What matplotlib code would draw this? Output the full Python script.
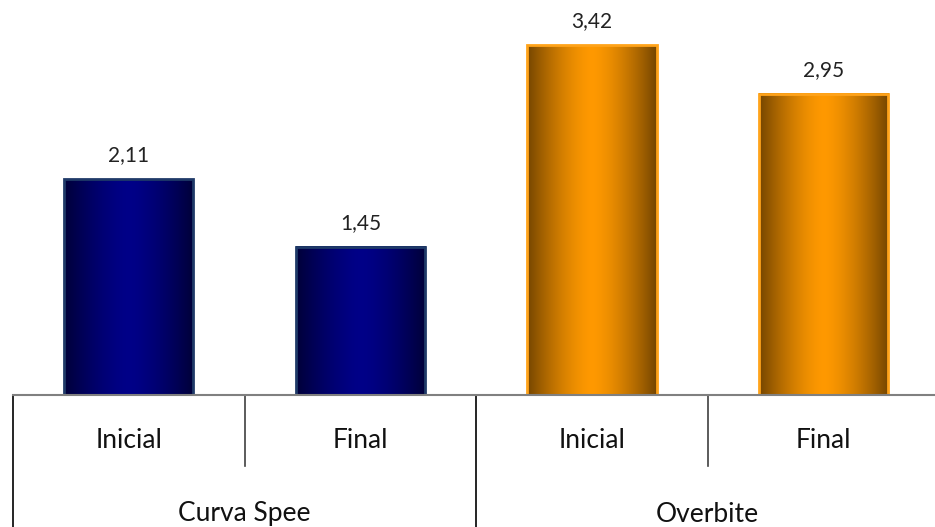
import matplotlib.pyplot as plt
import matplotlib.transforms as mtransforms
import numpy as np
from matplotlib.colors import to_rgb
from matplotlib.patches import Rectangle

groups = ["Curva Spee", "Overbite"]
stages = ["Inicial", "Final"]
values = [2.11, 1.45, 3.42, 2.95]
labels = ["2,11", "1,45", "3,42", "2,95"]

# per-group fill: (edge shade, centre shade, outline)
palette = {
    "Curva Spee": ("#000038", "#000088", "#1f3a68"),
    "Overbite": ("#744500", "#ff9900", "#ffa31a"),
}

plt.rcParams["font.family"] = ["Lato", "DejaVu Sans"]

fig = plt.figure(figsize=(9.35, 5.27), dpi=100)
W, H = 935, 527
base_px = 395
slot_px = 231.6
ax = fig.add_axes([13 / W, (H - base_px) / H, 4 * slot_px / W, base_px / H])
ax.set_xlim(0, 4)
ax.set_ylim(0, base_px / 102.2)
ax.axis("off")

bar_w = 0.557


def shade(edge, centre, n=256):
    t = np.abs(np.linspace(-1, 1, n)) ** 1.5
    e, c = np.array(to_rgb(edge)), np.array(to_rgb(centre))
    return (c[None, :] + (e - c)[None, :] * t[:, None])[None, :, :]


for i, v in enumerate(values):
    group = groups[i // len(stages)]
    edge, centre, outline = palette[group]
    x0 = i + 0.5 - bar_w / 2
    ax.imshow(shade(edge, centre), extent=[x0, x0 + bar_w, 0, v],
              aspect="auto", interpolation="bilinear", zorder=2)
    ax.add_patch(Rectangle((x0, 0), bar_w, v, fill=False,
                           edgecolor=outline, linewidth=2, zorder=3))
    ax.annotate(labels[i], (i + 0.5, v), xytext=(0, 10), textcoords="offset points",
                ha="center", va="bottom", fontsize=15, color="#222222")

# category axis drawn below the bars (y in axes fraction)
tr = mtransforms.blended_transform_factory(ax.transData, ax.transAxes)
px = lambda p: -p / base_px
ax.plot([0, 4], [0, 0], transform=tr, color="#808080", lw=1.5, clip_on=False, zorder=4)
for k in range(5):
    if k % 2 == 0:
        ax.plot([k, k], [0, px(140)], transform=tr, color="#000000", lw=1.2, clip_on=False)
    else:
        ax.plot([k, k], [0, px(71)], transform=tr, color="#404040", lw=1.2, clip_on=False)

for i in range(len(values)):
    ax.text(i + 0.5, px(46), stages[i % len(stages)], transform=tr,
            ha="center", va="center", fontsize=19, color="#111111")
for g, name in enumerate(groups):
    ax.text(2 * g + 1, px(119), name, transform=tr,
            ha="center", va="center", fontsize=19, color="#111111")

fig.savefig("out.png", dpi=100)
